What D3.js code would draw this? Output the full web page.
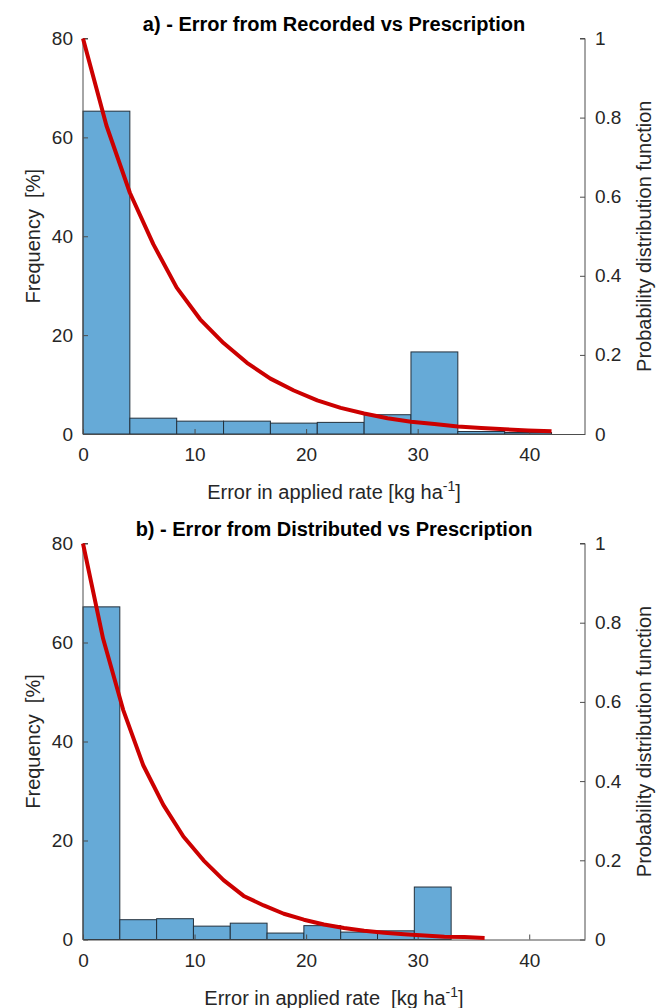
<!DOCTYPE html>
<html>
<head>
<meta charset="utf-8">
<script src="https://cdn.jsdelivr.net/npm/d3@7"></script>
<style>
  body { margin: 0; background: #fff; }
  text { font-family: "Liberation Sans", Arial, sans-serif; fill: #262626; white-space: pre; }
</style>
</head>
<body>
<div id="vis"></div>
<script>
// histogram bin edges and frequencies [%]
var edgesA = [0, 4.2, 8.4, 12.6, 16.8, 21, 25.2, 29.4, 33.6, 37.8, 42];
var freqA  = [65.3, 3.2, 2.6, 2.6, 2.2, 2.35, 3.9, 16.6, 0.5, 0.3];
var edgesB = [0, 3.3, 6.6, 9.9, 13.2, 16.5, 19.8, 23.1, 26.4, 29.7, 33];
var freqB  = [67.2, 4.0, 4.2, 2.7, 3.3, 1.3, 2.8, 1.5, 1.75, 10.6];

// fitted pdf
var pdfXA = [0, 2.1, 4.2, 6.3, 8.4, 10.5, 12.6, 14.7, 16.8, 18.9, 21, 23.1, 25.2, 27.3, 29.4, 31.5, 33.6, 35.7, 37.8, 39.9, 42];
var pdfYA = [1.00, 0.78, 0.61, 0.48, 0.37, 0.29, 0.23, 0.18, 0.14, 0.11, 0.085, 0.066, 0.052, 0.040, 0.031, 0.025, 0.019, 0.015, 0.012, 0.009, 0.007];
var pdfXB = [0, 1.8, 3.6, 5.4, 7.2, 9, 10.8, 12.6, 14.4, 16.2, 18, 19.8, 21.6, 23.4, 25.2, 27, 28.8, 30.6, 32.4, 34.2, 36];
var pdfYB = [1.00, 0.76, 0.58, 0.44, 0.34, 0.26, 0.20, 0.15, 0.11, 0.086, 0.065, 0.050, 0.038, 0.029, 0.022, 0.017, 0.013, 0.010, 0.007, 0.006, 0.004];

var xTicks = [0, 10, 20, 30, 40];
var yTicks = [0, 20, 40, 60, 80];
var y2Ticks = [0, 0.2, 0.4, 0.6, 0.8, 1];

var titles = ["a) - Error from Recorded vs Prescription", "b) - Error from Distributed vs Prescription"];
var xLabels = ["Error in applied rate [kg ha", "Error in applied rate  [kg ha"];

var W = 656, H = 1008;
var left = 83, right = 585;

var svg = d3.select("#vis").append("svg")
    .attr("width", W)
    .attr("height", H);

var axisColor = "#4d4d4d";
var font = "'Liberation Sans', Arial, sans-serif";

function drawPanel(top, bottom, edges, freq, pdfX, pdfY, title, xlab) {
  var g = svg.append("g");

  var x = d3.scaleLinear().domain([0, 45]).range([left, right]);
  var y = d3.scaleLinear().domain([0, 80]).range([bottom, top]);
  var y2 = d3.scaleLinear().domain([0, 1]).range([bottom, top]);

  // bars
  g.selectAll(".bar")
    .data(freq)
    .enter()
    .append("rect")
      .attr("class", "bar")
      .attr("x", function(d, i) { return x(edges[i]); })
      .attr("width", function(d, i) { return x(edges[i + 1]) - x(edges[i]); })
      .attr("y", function(d) { return y(d); })
      .attr("height", function(d) { return bottom - y(d); })
      .style("fill", "#66aad7")
      .style("stroke", "#23303c")
      .style("stroke-width", 1);

  // axes (ticks point inward like matlab)
  var xAxis = g.append("g")
      .attr("transform", "translate(0," + bottom + ")")
      .call(d3.axisBottom(x).tickValues(xTicks).tickSizeInner(-5).tickSizeOuter(0).tickPadding(14));
  var yAxis = g.append("g")
      .attr("transform", "translate(" + left + ",0)")
      .call(d3.axisLeft(y).tickValues(yTicks).tickSizeInner(-5).tickSizeOuter(0).tickPadding(10));
  var y2Axis = g.append("g")
      .attr("transform", "translate(" + right + ",0)")
      .call(d3.axisRight(y2).tickValues(y2Ticks).tickFormat(d3.format("")).tickSizeInner(-5).tickSizeOuter(0).tickPadding(10));

  [xAxis, yAxis, y2Axis].forEach(function(a) {
    a.selectAll("path").attr("stroke", axisColor);
    a.selectAll("line").attr("stroke", axisColor);
    a.selectAll("text").style("font-size", "19px").style("font-family", font).attr("fill", "#262626");
  });
  // short outer ticks at the ends of the y axes
  yAxis.select(".domain").attr("d", "M5," + top + "H0V" + bottom);
  y2Axis.select(".domain").attr("d", "M-5," + top + "H0V" + bottom);

  // pdf line
  var pts = pdfX.map(function(v, i) { return [v, pdfY[i]]; });
  var line = d3.line()
    .x(function(d) { return x(d[0]); })
    .y(function(d) { return y2(d[1]); });
  g.append("path")
    .datum(pts)
    .attr("d", line)
    .style("fill", "none")
    .style("stroke", "#cc0000")
    .style("stroke-width", 4)
    .style("stroke-linejoin", "round");

  // title
  g.append("text")
    .attr("x", (left + right) / 2)
    .attr("y", top - 8)
    .attr("text-anchor", "middle")
    .style("font-size", "20px")
    .style("font-weight", "bold")
    .style("fill", "#000")
    .text(title);

  // x label with superscript
  var xl = g.append("text")
    .attr("x", (left + right) / 2)
    .attr("y", bottom + 65)
    .attr("text-anchor", "middle")
    .style("font-size", "20px");
  xl.append("tspan").text(xlab);
  xl.append("tspan").attr("dy", -8).style("font-size", "14px").text("-1");
  xl.append("tspan").attr("dy", 8).text("]");

  // y labels
  g.append("text")
    .attr("transform", "translate(40," + (top + bottom) / 2 + ") rotate(-90)")
    .attr("text-anchor", "middle")
    .style("font-size", "20px")
    .text("Frequency  [%]");
  g.append("text")
    .attr("transform", "translate(651," + (top + bottom) / 2 + ") rotate(-90)")
    .attr("text-anchor", "middle")
    .style("font-size", "20px")
    .text("Probability distribution function");
}

drawPanel(38.5, 434, edgesA, freqA, pdfXA, pdfYA, titles[0], xLabels[0]);
drawPanel(543.5, 939.5, edgesB, freqB, pdfXB, pdfYB, titles[1], xLabels[1]);
</script>
</body>
</html>
